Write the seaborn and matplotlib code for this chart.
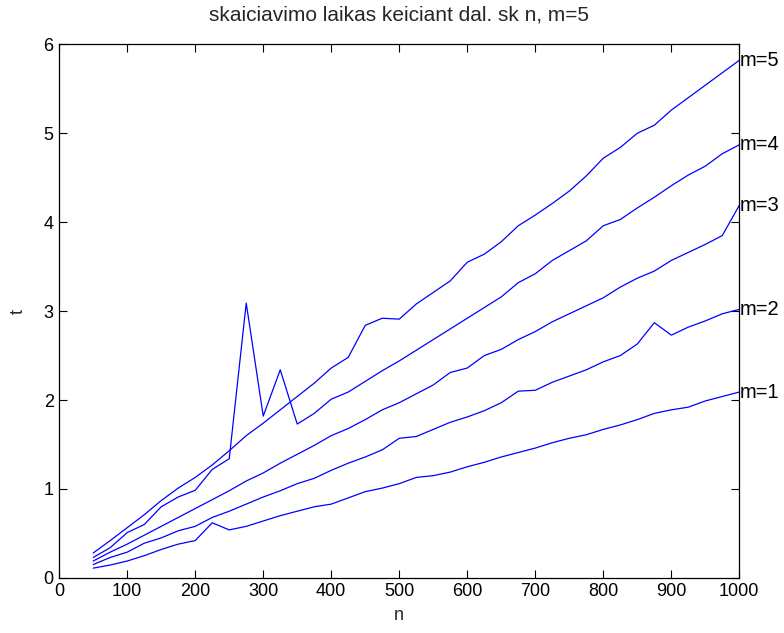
import matplotlib
matplotlib.use("Agg")
import matplotlib.pyplot as plt
import seaborn as sns
import pandas as pd

n_values = [50, 75, 100, 125, 150, 175, 200, 225, 250, 275, 300, 325, 350,
            375, 400, 425, 450, 475, 500, 525, 550, 575, 600, 625, 650, 675,
            700, 725, 750, 775, 800, 825, 850, 875, 900, 925, 950, 975, 1000]

t_m1 = [0.11, 0.145, 0.19, 0.25, 0.32, 0.38, 0.42, 0.62, 0.54, 0.58, 0.64, 0.70,
        0.75, 0.80, 0.83, 0.90, 0.97, 1.01, 1.06, 1.13, 1.15, 1.19, 1.25, 1.30,
        1.36, 1.41, 1.46, 1.52, 1.57, 1.61, 1.67, 1.72, 1.78, 1.85, 1.89, 1.92,
        1.99, 2.04, 2.09]
t_m2 = [0.15, 0.23, 0.29, 0.39, 0.45, 0.53, 0.58, 0.68, 0.75, 0.83, 0.91, 0.98,
        1.06, 1.12, 1.21, 1.29, 1.36, 1.44, 1.57, 1.59, 1.67, 1.75, 1.81, 1.88,
        1.97, 2.10, 2.11, 2.20, 2.27, 2.34, 2.43, 2.50, 2.63, 2.87, 2.73, 2.82,
        2.89, 2.97, 3.02]
t_m3 = [0.19, 0.29, 0.38, 0.48, 0.58, 0.68, 0.78, 0.88, 0.98, 1.09, 1.18, 1.29,
        1.39, 1.49, 1.60, 1.68, 1.78, 1.89, 1.97, 2.07, 2.17, 2.31, 2.36, 2.50,
        2.57, 2.68, 2.77, 2.88, 2.97, 3.06, 3.15, 3.27, 3.37, 3.45, 3.57, 3.66,
        3.75, 3.85, 4.19]
t_m4 = [0.23, 0.34, 0.51, 0.60, 0.80, 0.91, 0.985, 1.22, 1.34, 3.09, 1.82, 2.34,
        1.73, 1.85, 2.01, 2.09, 2.21, 2.33, 2.44, 2.56, 2.68, 2.80, 2.92, 3.04,
        3.16, 3.32, 3.42, 3.57, 3.68, 3.79, 3.96, 4.03, 4.16, 4.28, 4.41, 4.53,
        4.63, 4.77, 4.87]
t_m5 = [0.28, 0.42, 0.565, 0.71, 0.87, 1.01, 1.13, 1.27, 1.43, 1.60, 1.74, 1.89,
        2.04, 2.19, 2.36, 2.48, 2.84, 2.92, 2.91, 3.08, 3.21, 3.34, 3.55, 3.64,
        3.78, 3.96, 4.08, 4.21, 4.35, 4.52, 4.72, 4.84, 5.00, 5.09, 5.26, 5.40,
        5.54, 5.68, 5.82]

series_labels = ["m=1", "m=2", "m=3", "m=4", "m=5"]
series_values = [t_m1, t_m2, t_m3, t_m4, t_m5]

title_text = "skaiciavimo laikas keiciant dal. sk n, m=5"
x_ticks = [0, 100, 200, 300, 400, 500, 600, 700, 800, 900, 1000]
y_ticks = [0, 1, 2, 3, 4, 5, 6]

rows = []
for lab, vals in zip(series_labels, series_values):
    for n, t in zip(n_values, vals):
        rows.append({"n": n, "t": t, "m": lab})
df = pd.DataFrame(rows)

sns.set_style("ticks")
plt.rcParams["font.family"] = ["Liberation Sans", "DejaVu Sans"]
plt.rcParams["xtick.direction"] = "in"
plt.rcParams["ytick.direction"] = "in"

fig = plt.figure(figsize=(7.84, 6.33), dpi=100)
ax = fig.add_axes([0.0755, 0.087, 0.8675, 0.843])

palette = {lab: "#0000FF" for lab in series_labels}
sns.lineplot(data=df, x="n", y="t", hue="m", palette=palette, legend=False,
             linewidth=0.9, ax=ax, estimator=None, sort=False)

for lab, vals in zip(series_labels, series_values):
    ax.text(n_values[-1], vals[-1], lab, ha="left", va="center", fontsize=14.5,
            color="black", clip_on=False)

ax.set_xlim(0, 1000)
ax.set_ylim(0, 6)
ax.set_xticks(x_ticks)
ax.set_yticks(y_ticks)
ax.tick_params(axis="both", which="both", direction="in", length=6, width=0.8,
               top=True, right=True, labelsize=13, colors="black", pad=4)
for s in ax.spines.values():
    s.set_visible(True)
    s.set_color("black")
    s.set_linewidth(0.9)

ax.set_xlabel("n", fontsize=13, labelpad=5)
ax.set_ylabel("t", fontsize=13, labelpad=12)
ax.set_title(title_text, fontsize=15, pad=17)

fig.savefig("out.png", dpi=100, facecolor="white")
